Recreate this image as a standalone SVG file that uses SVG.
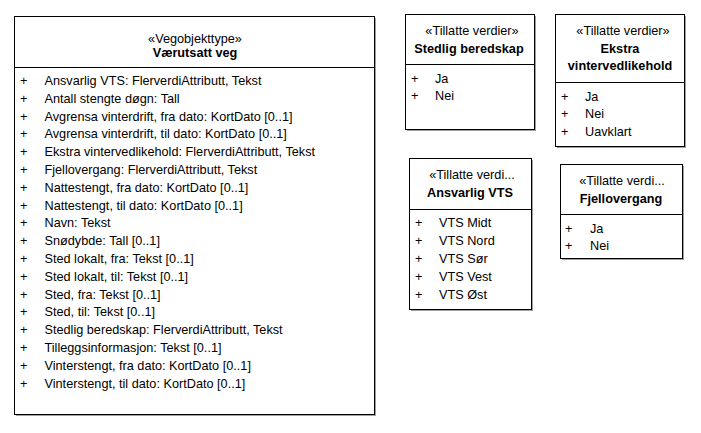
<svg xmlns="http://www.w3.org/2000/svg" width="701" height="433" viewBox="0 0 701 433">
<style>
.box{fill:#fff;stroke:#000;stroke-width:1}
.sh{fill:#a0a0a0}
.sep{stroke:#000;stroke-width:1}
text{font-family:"Liberation Sans",Arial,sans-serif;font-size:12.7px;fill:#000}
.c{text-anchor:middle}
.b{font-weight:bold}
</style>
<rect width="701" height="433" fill="#fff"/>
<g id="vaerutsatt-veg">
<rect class="sh" x="16" y="18" width="360" height="398"/>
<rect class="box" x="14.5" y="16.5" width="360" height="398"/>
<line class="sep" x1="14.5" y1="67.5" x2="374.5" y2="67.5"/>
<text class="c" x="195" y="43">«Vegobjekttype»</text>
<text class="c b" x="195" y="57">Værutsatt veg</text>
<g>
<text x="20" y="85">+</text><text x="44.5" y="85">Ansvarlig VTS: FlerverdiAttributt, Tekst</text>
<text x="20" y="102.8">+</text><text x="44.5" y="102.8">Antall stengte døgn: Tall</text>
<text x="20" y="120.6">+</text><text x="44.5" y="120.6">Avgrensa vinterdrift, fra dato: KortDato [0..1]</text>
<text x="20" y="138.4">+</text><text x="44.5" y="138.4">Avgrensa vinterdrift, til dato: KortDato [0..1]</text>
<text x="20" y="156.2">+</text><text x="44.5" y="156.2">Ekstra vintervedlikehold: FlerverdiAttributt, Tekst</text>
<text x="20" y="174">+</text><text x="44.5" y="174">Fjellovergang: FlerverdiAttributt, Tekst</text>
<text x="20" y="191.8">+</text><text x="44.5" y="191.8">Nattestengt, fra dato: KortDato [0..1]</text>
<text x="20" y="209.6">+</text><text x="44.5" y="209.6">Nattestengt, til dato: KortDato [0..1]</text>
<text x="20" y="227.4">+</text><text x="44.5" y="227.4">Navn: Tekst</text>
<text x="20" y="245.2">+</text><text x="44.5" y="245.2">Snødybde: Tall [0..1]</text>
<text x="20" y="263">+</text><text x="44.5" y="263">Sted lokalt, fra: Tekst [0..1]</text>
<text x="20" y="280.8">+</text><text x="44.5" y="280.8">Sted lokalt, til: Tekst [0..1]</text>
<text x="20" y="298.6">+</text><text x="44.5" y="298.6">Sted, fra: Tekst [0..1]</text>
<text x="20" y="316.4">+</text><text x="44.5" y="316.4">Sted, til: Tekst [0..1]</text>
<text x="20" y="334.2">+</text><text x="44.5" y="334.2">Stedlig beredskap: FlerverdiAttributt, Tekst</text>
<text x="20" y="352">+</text><text x="44.5" y="352">Tilleggsinformasjon: Tekst [0..1]</text>
<text x="20" y="369.8">+</text><text x="44.5" y="369.8">Vinterstengt, fra dato: KortDato [0..1]</text>
<text x="20" y="387.6">+</text><text x="44.5" y="387.6">Vinterstengt, til dato: KortDato [0..1]</text>
</g>
</g>
<g id="stedlig-beredskap">
<rect class="sh" x="407" y="16" width="129" height="115"/>
<rect class="box" x="405.5" y="14.5" width="129" height="115"/>
<line class="sep" x1="405.5" y1="64.5" x2="534.5" y2="64.5"/>
<text class="c" x="472" y="35">«Tillatte verdier»</text>
<text class="c b" x="469" y="52.5">Stedlig beredskap</text>
<text x="411" y="83">+</text><text x="435" y="83">Ja</text>
<text x="411" y="100">+</text><text x="435" y="100">Nei</text>
</g>
<g id="ekstra-vintervedlikehold">
<rect class="sh" x="557" y="16" width="129" height="132"/>
<rect class="box" x="555.5" y="14.5" width="129" height="132"/>
<line class="sep" x1="555.5" y1="82.5" x2="684.5" y2="82.5"/>
<text class="c" x="623" y="35">«Tillatte verdier»</text>
<text class="c b" x="620" y="53">Ekstra</text>
<text class="c b" x="620" y="70">vintervedlikehold</text>
<text x="561" y="100.5">+</text><text x="585" y="100.5">Ja</text>
<text x="561" y="118">+</text><text x="585" y="118">Nei</text>
<text x="561" y="135.5">+</text><text x="585" y="135.5">Uavklart</text>
</g>
<g id="ansvarlig-vts">
<rect class="sh" x="411" y="160" width="122" height="151"/>
<rect class="box" x="409.5" y="158.5" width="122" height="151"/>
<line class="sep" x1="409.5" y1="209.5" x2="531.5" y2="209.5"/>
<text class="c" x="472" y="179">«Tillatte verdi...</text>
<text class="c b" x="470" y="197">Ansvarlig VTS</text>
<text x="415" y="227">+</text><text x="439" y="227">VTS Midt</text>
<text x="415" y="245">+</text><text x="439" y="245">VTS Nord</text>
<text x="415" y="263">+</text><text x="439" y="263">VTS Sør</text>
<text x="415" y="281">+</text><text x="439" y="281">VTS Vest</text>
<text x="415" y="299">+</text><text x="439" y="299">VTS Øst</text>
</g>
<g id="fjellovergang">
<rect class="sh" x="562" y="166" width="122" height="94"/>
<rect class="box" x="560.5" y="164.5" width="122" height="94"/>
<line class="sep" x1="560.5" y1="214.5" x2="682.5" y2="214.5"/>
<text class="c" x="622" y="185">«Tillatte verdi...</text>
<text class="c b" x="621" y="203">Fjellovergang</text>
<text x="565" y="233">+</text><text x="590" y="233">Ja</text>
<text x="565" y="250">+</text><text x="590" y="250">Nei</text>
</g>
<g id="connectors"/>
</svg>
